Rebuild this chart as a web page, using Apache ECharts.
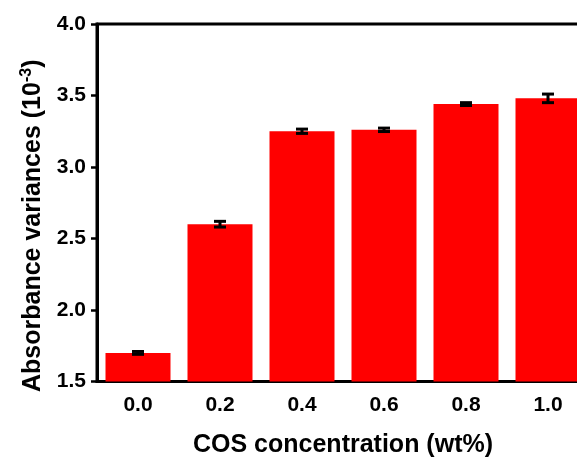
<!DOCTYPE html>
<html><head><meta charset="utf-8">
<script src="https://cdn.jsdelivr.net/npm/echarts@6/dist/echarts.min.js"></script>
<style>html,body{margin:0;padding:0;background:#fff}#c{width:577px;height:457px}</style>
</head><body><div id="c"></div>
<script>
const categories = ['0.0','0.2','0.4','0.6','0.8','1.0'];
const values = [1.70, 2.60, 3.25, 3.26, 3.44, 3.48];
const errors = [0.01, 0.02, 0.015, 0.012, 0.01, 0.03];
const yTicks = [1.5, 2.0, 2.5, 3.0, 3.5, 4.0];

const chart = echarts.init(document.getElementById('c'));
const errData = values.map((v,i)=>[i, v-errors[i], v+errors[i]]);
const FF = 'Liberation Sans, Arial';
chart.setOption({
  animation:false,
  grid:{left:97, top:24, right:-12, bottom:75.5, containLabel:false, outerBoundsMode:'none',
    show:true, borderColor:'#000', borderWidth:3, backgroundColor:'transparent'},
  xAxis:{type:'category', data:categories,
    axisLine:{lineStyle:{color:'#000', width:3}},
    axisTick:{alignWithLabel:true, length:6, lineStyle:{color:'#000', width:2.5}},
    axisLabel:{color:'#000', fontFamily:FF, fontWeight:'bold', fontSize:21, margin:13},
    name:'COS concentration (wt%)', nameLocation:'middle', nameGap:51,
    nameTextStyle:{color:'#000', fontFamily:FF, fontWeight:'bold', fontSize:25}
  },
  yAxis:{type:'value', min:yTicks[0], max:yTicks[yTicks.length-1], interval:0.5,
    splitLine:{show:false},
    axisLine:{show:true, lineStyle:{color:'#000', width:3}},
    axisTick:{show:true, length:6, lineStyle:{color:'#000', width:2.5}},
    axisLabel:{color:'#000', fontFamily:FF, fontWeight:'bold', fontSize:21, margin:11,
      formatter:v=>v.toFixed(1)},
    name:'{a|Absorbance variances (10}{s|-3}{a|)}', nameLocation:'middle', nameGap:50,
    nameTextStyle:{padding:[0,46,0,0], rich:{
      a:{color:'#000', fontFamily:FF, fontWeight:'bold', fontSize:25},
      s:{color:'#000', fontFamily:FF, fontWeight:'bold', fontSize:16, verticalAlign:'top', padding:[0,0,12,0]}
    }}
  },
  series:[
    {type:'bar', data:values, barWidth:65, itemStyle:{color:'#ff0000'}},
    {type:'custom', data:errData, z:10,
      renderItem:function(params, api){
        const x = api.value(0);
        const lo = api.coord([x, api.value(1)]);
        const hi = api.coord([x, api.value(2)]);
        const hw = 6;
        const st = {stroke:'#000', lineWidth:3};
        return {type:'group', children:[
          {type:'line', shape:{x1:lo[0], y1:lo[1], x2:hi[0], y2:hi[1]}, style:st},
          {type:'line', shape:{x1:lo[0]-hw, y1:lo[1], x2:lo[0]+hw, y2:lo[1]}, style:st},
          {type:'line', shape:{x1:hi[0]-hw, y1:hi[1], x2:hi[0]+hw, y2:hi[1]}, style:st}
        ]};
      }
    }
  ]
});
</script></body></html>
